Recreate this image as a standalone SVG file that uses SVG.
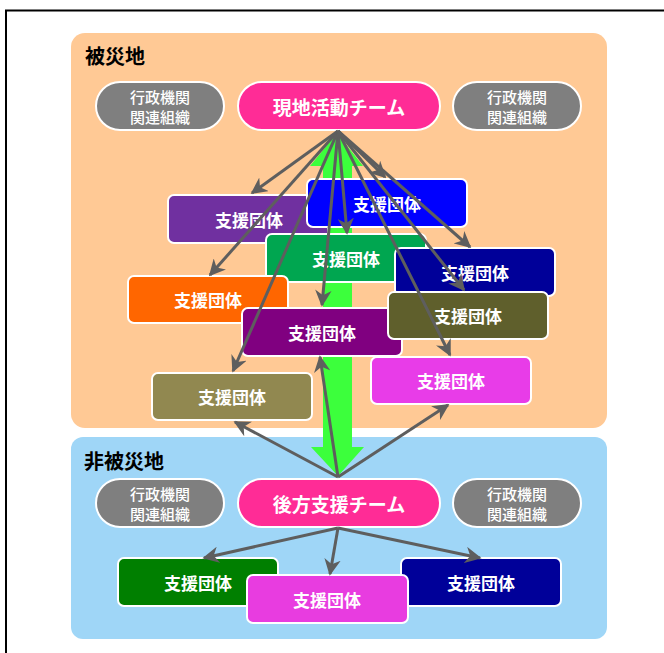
<svg xmlns="http://www.w3.org/2000/svg" width="664" height="653" viewBox="0 0 664 653">
<defs>
<style>
text{font-family:"Noto Sans CJK JP","Noto Sans",sans-serif;fill:#fff;text-anchor:middle;dominant-baseline:central}
.title{fill:#000;text-anchor:start;dominant-baseline:alphabetic;font-size:20px;font-weight:bold}
.sup rect{stroke:#fff;stroke-width:2}
.sup text{font-size:17px;font-weight:bold}
.pill rect{fill:#7f7f7f;stroke:#fff;stroke-width:2}
.pill text{font-size:15px;font-weight:500}
.team rect{fill:#ff2c96;stroke:#fff;stroke-width:2}
.team text{font-size:19px;font-weight:bold}
.conn line{stroke:#5e5e5e;stroke-width:3;marker-end:url(#ah)}
</style>
<marker id="ah" viewBox="0 0 10 10" refX="9" refY="5" markerWidth="5.5" markerHeight="5.5" orient="auto" markerUnits="strokeWidth"><path d="M0,0 L10,5 L0,10 L3,5 z" fill="#5e5e5e"/></marker>
</defs>
<rect x="6" y="10.5" width="700" height="700" fill="none" stroke="#000" stroke-width="2"/>
<g id="region-hisaichi">
<rect x="71" y="33" width="536" height="395" rx="14" fill="#ffc995"/>
<text class="title" x="85" y="64">被災地</text>
</g>
<g id="region-hihisaichi">
<rect x="71" y="437" width="536" height="202" rx="12" fill="#9fd6f7"/>
<text class="title" x="84" y="469">非被災地</text>
</g>
<g id="green-arrow">
<polygon points="337,133 310,166 323,166 323,447 311,447 338,476 364,447 352,447 352,166 363,166" fill="#3cff3c"/>
</g>
<g id="sup1" class="sup"><rect x="168" y="195" width="160" height="48" rx="6" fill="#7030a0"/><text x="249" y="219">支援団体</text></g>
<g id="sup2" class="sup"><rect x="307" y="179" width="160" height="48" rx="6" fill="#0000ff"/><text x="387" y="203">支援団体</text></g>
<g id="sup3" class="sup"><rect x="266" y="234" width="160" height="48" rx="6" fill="#00a650"/><text x="346" y="258">支援団体</text></g>
<g id="sup4" class="sup"><rect x="395" y="248" width="160" height="48" rx="6" fill="#000099"/><text x="475" y="272">支援団体</text></g>
<g id="sup5" class="sup"><rect x="128" y="276" width="160" height="47" rx="6" fill="#ff6600"/><text x="208" y="299">支援団体</text></g>
<g id="sup6" class="sup"><rect x="242" y="308" width="160" height="48" rx="6" fill="#800080"/><text x="322" y="332">支援団体</text></g>
<g id="sup7" class="sup"><rect x="388" y="292" width="160" height="47" rx="6" fill="#5f5f2c"/><text x="468" y="315">支援団体</text></g>
<g id="sup8" class="sup"><rect x="371" y="357" width="160" height="47" rx="6" fill="#e83ce8"/><text x="451" y="380">支援団体</text></g>
<g id="sup9" class="sup"><rect x="152" y="373" width="160" height="47" rx="6" fill="#918850"/><text x="232" y="396">支援団体</text></g>
<g id="sup10" class="sup"><rect x="118" y="558" width="160" height="48" rx="6" fill="#007f00"/><text x="198" y="582">支援団体</text></g>
<g id="sup11" class="sup"><rect x="401" y="558" width="160" height="48" rx="6" fill="#000099"/><text x="481" y="582">支援団体</text></g>
<g id="sup12" class="sup"><rect x="247" y="575" width="161" height="48" rx="6" fill="#e83ce0"/><text x="327" y="599">支援団体</text></g>
<g id="gov1" class="pill"><rect x="96" y="82" width="128" height="48" rx="24"/><text x="160" y="96">行政機関</text><text x="160" y="116">関連組織</text></g>
<g id="team1" class="team"><rect x="238" y="82" width="202" height="48" rx="24"/><text x="339" y="106">現地活動チーム</text></g>
<g id="gov2" class="pill"><rect x="453" y="82" width="128" height="48" rx="24"/><text x="517" y="96">行政機関</text><text x="517" y="116">関連組織</text></g>
<g id="gov3" class="pill"><rect x="96" y="479" width="128" height="48" rx="24"/><text x="160" y="493">行政機関</text><text x="160" y="513">関連組織</text></g>
<g id="team2" class="team"><rect x="238" y="479" width="202" height="48" rx="24"/><text x="339" y="503">後方支援チーム</text></g>
<g id="gov4" class="pill"><rect x="453" y="479" width="128" height="48" rx="24"/><text x="517" y="493">行政機関</text><text x="517" y="513">関連組織</text></g>
<g id="connectors" class="conn">
<line x1="338" y1="131" x2="252" y2="193"/>
<line x1="338" y1="131" x2="210" y2="275"/>
<line x1="338" y1="131" x2="233" y2="371"/>
<line x1="338" y1="131" x2="322" y2="305"/>
<line x1="338" y1="131" x2="347" y2="233"/>
<line x1="338" y1="131" x2="385" y2="177"/>
<line x1="338" y1="131" x2="470" y2="247"/>
<line x1="338" y1="131" x2="464" y2="290"/>
<line x1="338" y1="131" x2="450" y2="355"/>
<line x1="338" y1="477" x2="235" y2="422"/>
<line x1="338" y1="477" x2="320" y2="357"/>
<line x1="338" y1="477" x2="448" y2="405"/>
<line x1="338" y1="528" x2="204" y2="558"/>
<line x1="338" y1="528" x2="330" y2="574"/>
<line x1="338" y1="528" x2="480" y2="558"/>
</g>
</svg>
